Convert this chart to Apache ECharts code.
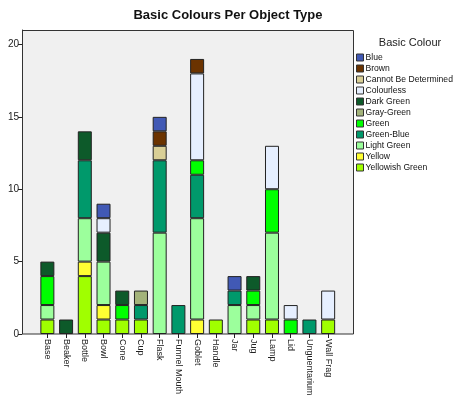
<!DOCTYPE html>
<html><head><meta charset="utf-8">
<script src="https://cdn.jsdelivr.net/npm/echarts@6/dist/echarts.min.js"></script>
<style>html,body{margin:0;padding:0;background:#fff}#c{width:462px;height:395px}</style>
</head><body><div id="c"></div>
<script>
const categories = ['Base','Beaker','Bottle','Bowl','Cone','Cup','Flask','Funnel Mouth','Goblet','Handle','Jar','Jug','Lamp','Lid','Unguentarium','Wall Frag'];
const yellowishGreen = [1,0,4,1,1,1,0,0,0,1,0,1,1,0,0,1];
const yellow         = [0,0,1,1,0,0,0,0,1,0,0,0,0,0,0,0];
const lightGreen     = [1,0,3,3,0,0,7,0,7,0,2,1,6,0,0,0];
const greenBlue      = [0,0,4,0,0,1,5,2,3,0,1,0,0,0,1,0];
const green          = [2,0,0,0,1,0,0,0,1,0,0,1,3,1,0,0];
const grayGreen      = [0,0,0,0,0,1,0,0,0,0,0,0,0,0,0,0];
const darkGreen      = [1,1,2,2,1,0,0,0,0,0,0,1,0,0,0,0];
const colourless     = [0,0,0,1,0,0,0,0,6,0,0,0,3,1,0,2];
const cannotBeDet    = [0,0,0,0,0,0,1,0,0,0,0,0,0,0,0,0];
const brown          = [0,0,0,0,0,0,1,0,1,0,0,0,0,0,0,0];
const blue           = [0,0,0,1,0,0,1,0,0,0,1,0,0,0,0,0];
const yTicks = [0,5,10,15,20];

const seriesDefs = [
  ['Yellowish Green', yellowishGreen, '#a0ff00'],
  ['Yellow', yellow, '#ffff33'],
  ['Light Green', lightGreen, '#9cff9c'],
  ['Green-Blue', greenBlue, '#00996b'],
  ['Green', green, '#00ff00'],
  ['Gray-Green', grayGreen, '#a3b37a'],
  ['Dark Green', darkGreen, '#0d5a2a'],
  ['Colourless', colourless, '#e6efff'],
  ['Cannot Be Determined', cannotBeDet, '#d9cf96'],
  ['Brown', brown, '#6b3300'],
  ['Blue', blue, '#4159b5']
];
const FONT = 'Liberation Sans, Arial, sans-serif';
const chart = echarts.init(document.getElementById('c'), null, {renderer:'canvas'});
chart.setOption({
  animation:false,
  backgroundColor:'#fff',
  textStyle:{fontFamily:FONT},
  title:[
    {text:'Basic Colours Per Object Type', left:228, top:9, textAlign:'center', padding:0,
     textStyle:{fontFamily:FONT, fontSize:13, fontWeight:'bold', color:'#111'}},
    {text:'Basic Colour', left:410, top:37, textAlign:'center', padding:0,
     textStyle:{fontFamily:FONT, fontSize:11, fontWeight:'normal', color:'#222'}}
  ],
  graphic:[{type:'rect', z:-10, shape:{x:22.5, y:30.5, width:331, height:303.5},
    style:{fill:'#f0f0f0', stroke:'#333', lineWidth:1}}],
  legend:{
    orient:'vertical', left:356, top:52, padding:0,
    data:seriesDefs.map(d=>d[0]).reverse(),
    itemWidth:7, itemHeight:7, itemGap:0, icon:'rect',
    textStyle:{fontFamily:FONT, fontSize:8.6, lineHeight:11, color:'#111', padding:[0,0,0,-3]},
    itemStyle:{borderColor:'#333', borderWidth:1}
  },
  grid:{left:38, top:30, width:299.5, height:304, outerBoundsMode:'none', containLabel:false},
  xAxis:{type:'category', data:categories,
    axisLine:{show:false},
    axisTick:{show:true, alignWithLabel:true, length:4, lineStyle:{color:'#222'}},
    axisLabel:{rotate:-90, fontSize:9, color:'#222', margin:5, fontFamily:FONT, interval:0}
  },
  yAxis:{type:'value', min:0, max:21, interval:5, offset:16,
    axisLine:{show:true, lineStyle:{color:'#333'}},
    axisTick:{show:true, length:4, lineStyle:{color:'#222'}},
    splitLine:{show:false},
    axisLabel:{fontSize:10, color:'#222', margin:3, fontFamily:FONT, showMaxLabel:false,
      formatter:v=> yTicks.includes(v) ? String(v) : ''}
  },
  series:seriesDefs.map(([name,vals,color])=>({
    name, type:'bar', stack:'total', barWidth:14,
    data:vals.map(v=>v===0?null:v),
    itemStyle:{color, borderColor:'#222', borderWidth:1}
  }))
});
</script></body></html>
